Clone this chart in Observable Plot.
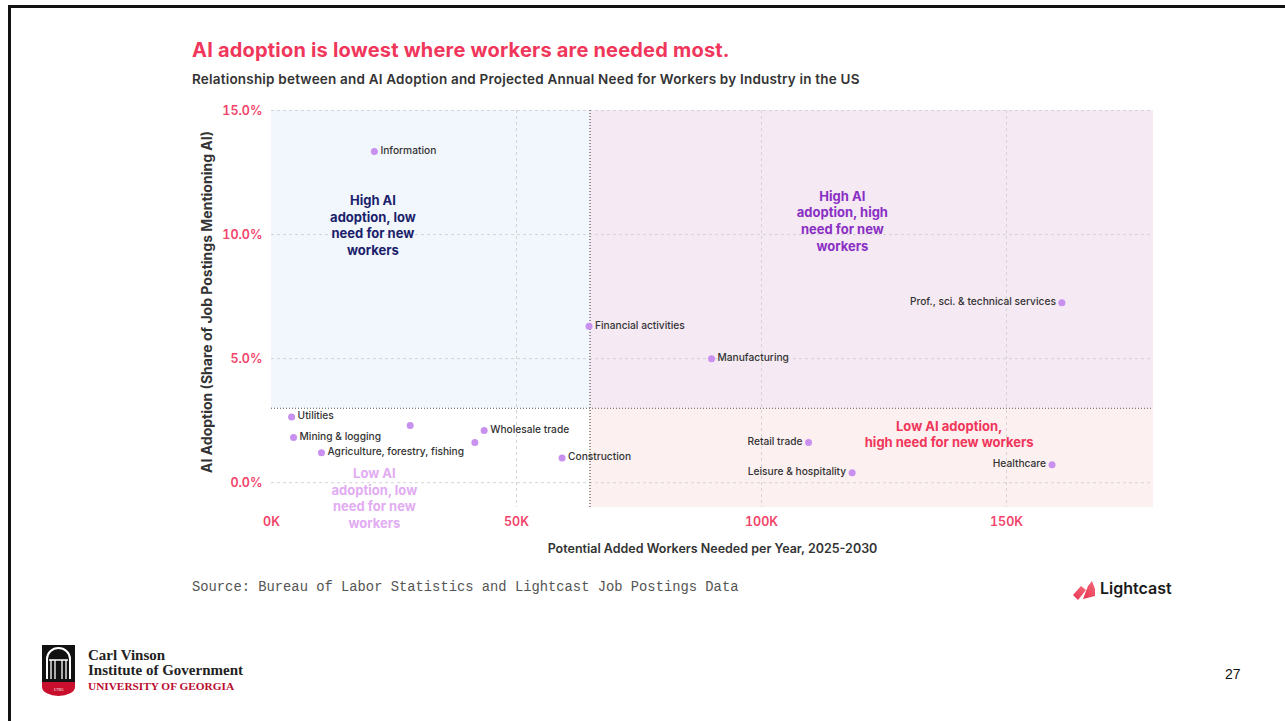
<!DOCTYPE html>
<html><head><meta charset="utf-8">
<script src="https://cdn.jsdelivr.net/npm/d3@7"></script>
<script src="https://cdn.jsdelivr.net/npm/@observablehq/plot@0.6"></script>
<style>
body{margin:0;width:1285px;height:721px;position:relative;background:#fff;overflow:hidden;font-family:Inter,"Noto Sans",sans-serif}
#frame{position:absolute;left:8px;top:5px;width:1290px;height:730px;border-top:3px solid #111;border-left:3px solid #111;box-sizing:border-box}
#title{position:absolute;left:192px;top:38px;font-size:20px;font-weight:700;color:#f0365a;letter-spacing:0.2px;white-space:nowrap}
#subtitle{position:absolute;left:192px;top:71px;font-size:13.5px;font-weight:600;color:#333;white-space:nowrap;letter-spacing:0.2px}
#chart{position:absolute;left:180px;top:95px}
#source{position:absolute;left:192px;top:580px;font-family:"Liberation Mono","DejaVu Sans Mono",monospace;font-size:13.8px;color:#555;white-space:nowrap}
#lightcast{position:absolute;left:1070px;top:575px}
#uga{position:absolute;left:40px;top:643px}
#page{position:absolute;left:1225px;top:666px;font-family:"Liberation Sans",Arial,sans-serif;font-size:14px;color:#111}
</style></head><body>
<div id="frame"></div>
<div id="title">AI adoption is lowest where workers are needed most.</div>
<div id="subtitle">Relationship between and AI Adoption and Projected Annual Need for Workers by Industry in the US</div>
<div id="chart"></div>
<div id="source">Source: Bureau of Labor Statistics and Lightcast Job Postings Data</div>
<div id="lightcast"><svg width="110" height="30">
  <defs><linearGradient id="lg" x1="0" y1="1" x2="1" y2="0"><stop offset="0" stop-color="#e8344f"/><stop offset="1" stop-color="#f36a7a"/></linearGradient></defs>
  <polygon points="3,20 11,11 16,15 8,25" fill="url(#lg)"/>
  <polygon points="13,24 18,11 22,6 25,14 25,21" fill="url(#lg)"/>
  <text x="30" y="19" font-family="Inter,sans-serif" font-size="16" font-weight="600" fill="#1a1a1a">Lightcast</text>
</svg></div>
<div id="uga"><svg width="230" height="56">
  <rect x="2" y="2" width="33" height="37" fill="#111"/>
  <path d="M7,36 V16 A11.5,11 0 0 1 30,16 V36" fill="none" stroke="#fff" stroke-width="2"/>
  <path d="M11,36 V17 M15,36 V17 M22,36 V17 M26,36 V17 M9,17 H28" stroke="#fff" stroke-width="1.3"/>
  <path d="M2,39 H35 V44 A16.5,9 0 0 1 2,44 Z" fill="#c8102e"/>
  <text x="18.5" y="48" text-anchor="middle" font-size="5" fill="#fff" font-family="serif">1785</text>
  <text x="48" y="17" font-family="'Liberation Serif','DejaVu Serif',serif" font-weight="700" font-size="15" fill="#222">Carl Vinson</text>
  <text x="48" y="32" font-family="'Liberation Serif','DejaVu Serif',serif" font-weight="700" font-size="15" fill="#222">Institute of Government</text>
  <text x="48" y="47" font-family="'Liberation Serif','DejaVu Serif',serif" font-weight="700" font-size="11.3" fill="#ba0c2f">UNIVERSITY OF GEORGIA</text>
</svg></div>
<div id="page">27</div>
<script>
// ---- data ----
const industries = ["Information","Prof., sci. & technical services","Financial activities","Manufacturing","Utilities","Mining & logging","Agriculture, forestry, fishing","","Wholesale trade","","Construction","Retail trade","Leisure & hospitality","Healthcare"];
const workersNeeded = [21000,161300,64800,89800,4100,4500,10200,28300,43400,41500,59300,109600,118500,159300];
const aiAdoption = [13.35,7.25,6.3,5.0,2.65,1.82,1.21,2.3,2.1,1.62,1.0,1.62,0.4,0.72];
const xTicks = [0,50000,100000,150000];
const yTicks = [0,5,10,15];
const xDomain = [0,180000];
const yDomain = [-1,15];
const needThreshold = 65000;
const adoptionThreshold = 3;
const xLabel = "Potential Added Workers Needed per Year, 2025-2030";
const yLabel = "AI Adoption (Share of Job Postings Mentioning AI)";
const quadrantNames = ["High AI\nadoption, low\nneed for new\nworkers","High AI\nadoption, high\nneed for new\nworkers","Low AI adoption,\nhigh need for new workers","Low AI\nadoption, low\nneed for new\nworkers"];

const data = industries.map((name,i)=>({name, x: workersNeeded[i], y: aiAdoption[i]}));
const tickRed = "#f2436a";
const labelFont = {fontSize:10.2, fontWeight:500, fill:"#333"};
const qFont = {fontSize:13, fontWeight:700, lineHeight:1.28};

const chart = Plot.plot({
  width:1000, height:470,
  marginLeft:91, marginRight:27, marginTop:15, marginBottom:58,
  style:{fontFamily:"Inter, sans-serif", background:"transparent", overflow:"visible"},
  x:{domain:xDomain},
  y:{domain:yDomain},
  marks:[
    Plot.rect([0],{x1:xDomain[0],x2:needThreshold,y1:adoptionThreshold,y2:yDomain[1],fill:"#f2f6fd"}),
    Plot.rect([0],{x1:needThreshold,x2:xDomain[1],y1:adoptionThreshold,y2:yDomain[1],fill:"#f5e9f3"}),
    Plot.rect([0],{x1:needThreshold,x2:xDomain[1],y1:yDomain[0],y2:adoptionThreshold,fill:"#fcf0f1"}),
    Plot.gridX(xTicks.slice(1),{stroke:"#d4d4d4",strokeOpacity:1,strokeDasharray:"3,3"}),
    Plot.gridY(yTicks,{stroke:"#d4d4d4",strokeOpacity:1,strokeDasharray:"3,3"}),
    Plot.ruleX([needThreshold],{stroke:"#555",strokeDasharray:"1,2",strokeWidth:1.2}),
    Plot.ruleY([adoptionThreshold],{stroke:"#555",strokeDasharray:"1,2",strokeWidth:1.2}),
    Plot.dot(data,{x:"x",y:"y",r:3.5,fill:"#c890ef"}),
    Plot.text(data.filter(d=>d.x<=100000),{x:"x",y:"y",text:"name",dx:6,dy:-1,textAnchor:"start",...labelFont}),
    Plot.text(data.filter(d=>d.x>100000),{x:"x",y:"y",text:"name",dx:-6,dy:-1,textAnchor:"end",...labelFont}),
    Plot.text([quadrantNames[0]],{x:20700,y:10.4,text:d=>d,fill:"#1b1f6b",...qFont}),
    Plot.text([quadrantNames[1]],{x:116500,y:10.57,text:d=>d,fill:"#8a2fc4",...qFont}),
    Plot.text([quadrantNames[2]],{x:138300,y:1.98,text:d=>d,fill:"#f0365a",...qFont}),
    Plot.text([quadrantNames[3]],{x:21000,y:-0.6,text:d=>d,fill:"#e2acf2",...qFont}),
    Plot.axisX({ticks:xTicks,tickFormat:d=>d/1000+"K",tickSize:0,tickPadding:10,label:null,fill:tickRed,fontSize:12.5,fontWeight:600}),
    Plot.axisY({ticks:yTicks,tickFormat:d=>d.toFixed(1)+"%",tickSize:0,tickPadding:9,label:null,fill:tickRed,fontSize:12.5,fontWeight:600}),
    Plot.text([xLabel],{frameAnchor:"bottom",dy:45,textAnchor:"middle",text:d=>d,fill:"#333",fontSize:12.5,fontWeight:600}),
    Plot.text([yLabel],{frameAnchor:"left",dx:-64,dy:-7,textAnchor:"middle",rotate:-90,text:d=>d,fill:"#333",fontSize:14,fontWeight:700})
  ]
});
document.getElementById("chart").appendChild(chart);
</script>
</body></html>
